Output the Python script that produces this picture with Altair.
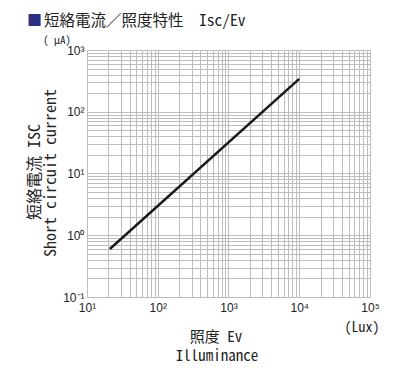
import altair as alt
import pandas as pd

# data
lux = [21, 10000]
isc = [0.6, 340]

x_decades = [10, 100, 1000, 10000, 100000]
y_decades = [0.1, 1, 10, 100, 1000]

title_text = "短絡電流／照度特性　Isc/Ev"
y_title_1 = "短絡電流 ISC"
y_title_2 = "Short circuit current"
x_title_1 = "照度 Ev"
x_title_2 = "Illuminance"
y_unit = "( μA)"
x_unit = "(Lux)"

x_grid = [m * d for d in x_decades[:-1] for m in range(1, 10)] + [x_decades[-1]]
y_grid = [m * d for d in y_decades[:-1] for m in range(1, 10)] + [y_decades[-1]]

CJK = "Noto Sans Mono CJK JP, Noto Sans CJK JP, DejaVu Sans Mono"
NUM = "Liberation Sans Narrow, Liberation Sans, Arial"
GRID = "#bdbdbd"
TXT = "#222222"

W, H = 283, 247

label_expr = ("abs(log(datum.value)/LN10 - round(log(datum.value)/LN10)) < 0.001 ? "
              "'10' + ['⁻¹','⁰','¹','²','³','⁴','⁵'][round(log(datum.value)/LN10)+1] : ''")

df = pd.DataFrame({"lux": lux, "isc": isc})

line = alt.Chart(df).mark_line(color="#1a1a1a", strokeWidth=2.5).encode(
    x=alt.X("lux:Q", scale=alt.Scale(type="log", domain=[10, 100000]),
            axis=alt.Axis(values=x_grid, labelExpr=label_expr, ticks=False, domain=False,
                          grid=True, gridColor=GRID, gridWidth=1, gridOpacity=1,
                          labelFont=NUM, labelFontSize=12, labelColor=TXT, labelPadding=5,
                          labelFlush=False, labelOverlap=False, title=None)),
    y=alt.Y("isc:Q", scale=alt.Scale(type="log", domain=[0.1, 1000]),
            axis=alt.Axis(values=y_grid, labelExpr=label_expr, ticks=False, domain=False,
                          grid=True, gridColor=GRID, gridWidth=1, gridOpacity=1,
                          labelFont=NUM, labelFontSize=12, labelColor=TXT, labelPadding=3,
                          labelFlush=False, labelOverlap=False, labelBaseline="middle",
                          title=None)),
)

def txt(text, x, y, size, color=TXT, angle=0, align="center", font=CJK):
    return alt.Chart(pd.DataFrame({"t": [text]})).mark_text(
        font=font, fontSize=size, color=color, angle=angle, align=align, baseline="middle"
    ).encode(text="t:N", x=alt.value(x), y=alt.value(y))

# offsets: plot origin at page (87, 50)
ox, oy = 87, 50
layers = [
    line,
    txt("■", 27 - ox, 20.5 - oy, 15, color="#2e3085", align="left"),
    txt(title_text, 44 - ox, 20.5 - oy, 15.5, align="left"),
    txt(y_unit, 57 - ox, 40.5 - oy, 10.5),
    txt(y_title_1, 35 - ox, 172 - oy, 16, angle=270),
    txt(y_title_2, 51 - ox, 173 - oy, 16, angle=270),
    txt(x_title_1, 216 - ox, 337 - oy, 15),
    txt(x_title_2, 217 - ox, 356 - oy, 15),
    txt(x_unit, 362 - ox, 328 - oy, 14),
]

chart = alt.layer(*layers).properties(
    width=W, height=H,
    autosize=alt.AutoSizeParams(type="none"),
    padding={"left": 79, "top": 42, "right": 14, "bottom": 70},
).configure_view(stroke=GRID, strokeWidth=1).configure(background="white")

chart.save("out.html", embed_options={"renderer": "svg", "actions": False})
